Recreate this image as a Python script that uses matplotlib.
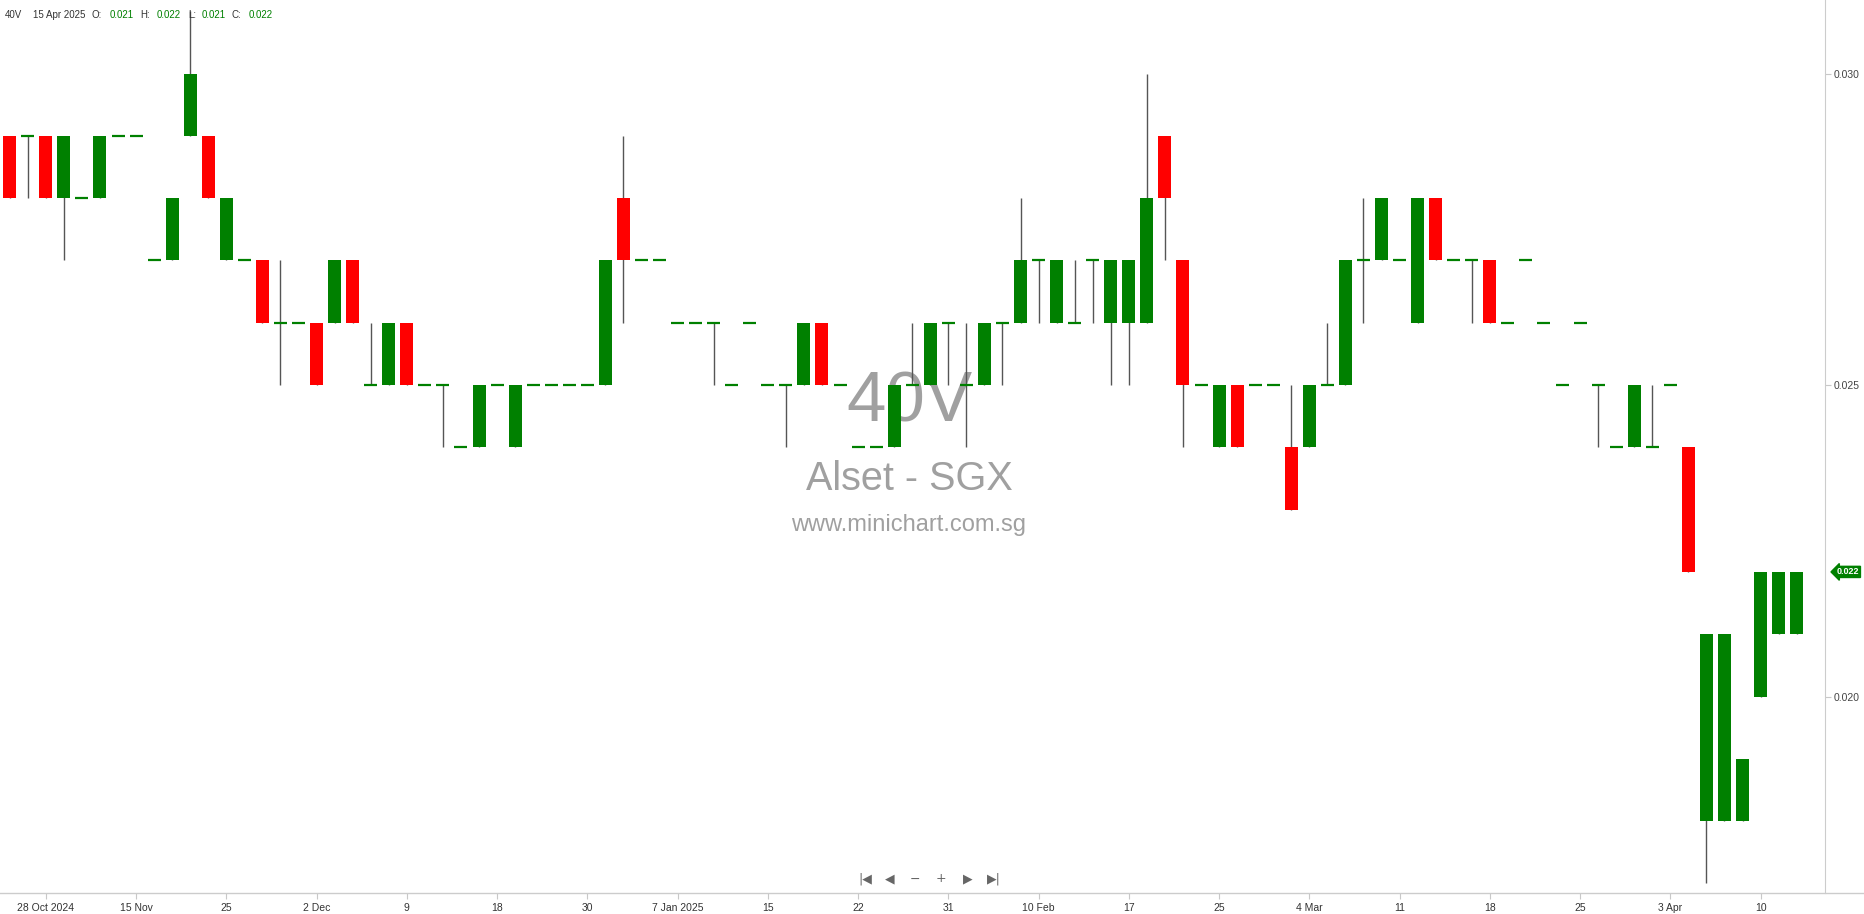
import numpy as np
import matplotlib
matplotlib.use("Agg")
import matplotlib.pyplot as plt
from matplotlib.lines import Line2D
from matplotlib.transforms import blended_transform_factory

# daily OHLC, one entry per traded day (no-trade days are skipped on this chart)
opens = [0.029, 0.029, 0.029, 0.028, 0.028, 0.028, 0.029, 0.029, 0.027, 0.027,
         0.029, 0.029, 0.027, 0.027, 0.027, 0.026, 0.026, 0.026, 0.026, 0.027,
         0.025, 0.025, 0.026, 0.025, 0.025, 0.024, 0.024, 0.025, 0.024, 0.025,
         0.025, 0.025, 0.025, 0.025, 0.028, 0.027, 0.027, 0.026, 0.026, 0.026,
         0.025, 0.026, 0.025, 0.025, 0.025, 0.026, 0.025, 0.024, 0.024, 0.024,
         0.025, 0.025, 0.026, 0.025, 0.025, 0.026, 0.026, 0.027, 0.026, 0.026,
         0.027, 0.026, 0.026, 0.026, 0.029, 0.027, 0.025, 0.024, 0.025, 0.025,
         0.025, 0.024, 0.024, 0.025, 0.025, 0.027, 0.027, 0.027, 0.026, 0.028,
         0.027, 0.027, 0.027, 0.026, 0.027, 0.026, 0.025, 0.026, 0.025, 0.024,
         0.024, 0.024, 0.025, 0.024, 0.018, 0.018, 0.018, 0.020, 0.021, 0.021]
highs = [0.029, 0.029, 0.029, 0.029, 0.028, 0.029, 0.029, 0.029, 0.027, 0.028,
         0.031, 0.029, 0.028, 0.027, 0.027, 0.027, 0.026, 0.026, 0.027, 0.027,
         0.026, 0.026, 0.026, 0.025, 0.025, 0.024, 0.025, 0.025, 0.025, 0.025,
         0.025, 0.025, 0.025, 0.027, 0.029, 0.027, 0.027, 0.026, 0.026, 0.026,
         0.025, 0.026, 0.025, 0.025, 0.026, 0.026, 0.025, 0.024, 0.024, 0.025,
         0.026, 0.026, 0.026, 0.026, 0.026, 0.026, 0.028, 0.027, 0.027, 0.027,
         0.027, 0.027, 0.027, 0.030, 0.029, 0.027, 0.025, 0.025, 0.025, 0.025,
         0.025, 0.025, 0.025, 0.026, 0.027, 0.028, 0.028, 0.027, 0.028, 0.028,
         0.027, 0.027, 0.027, 0.026, 0.027, 0.026, 0.025, 0.026, 0.025, 0.024,
         0.025, 0.025, 0.025, 0.024, 0.021, 0.021, 0.019, 0.022, 0.022, 0.022]
lows = [0.028, 0.028, 0.028, 0.027, 0.028, 0.028, 0.029, 0.029, 0.027, 0.027,
        0.029, 0.028, 0.027, 0.027, 0.026, 0.025, 0.026, 0.025, 0.026, 0.026,
        0.025, 0.025, 0.025, 0.025, 0.024, 0.024, 0.024, 0.025, 0.024, 0.025,
        0.025, 0.025, 0.025, 0.025, 0.026, 0.027, 0.027, 0.026, 0.026, 0.025,
        0.025, 0.026, 0.025, 0.024, 0.025, 0.025, 0.025, 0.024, 0.024, 0.024,
        0.025, 0.025, 0.025, 0.024, 0.025, 0.025, 0.026, 0.026, 0.026, 0.026,
        0.026, 0.025, 0.025, 0.026, 0.027, 0.024, 0.025, 0.024, 0.024, 0.025,
        0.025, 0.023, 0.024, 0.025, 0.025, 0.026, 0.027, 0.027, 0.026, 0.027,
        0.027, 0.026, 0.026, 0.026, 0.027, 0.026, 0.025, 0.026, 0.024, 0.024,
        0.024, 0.024, 0.025, 0.022, 0.017, 0.018, 0.018, 0.020, 0.021, 0.021]
closes = [0.028, 0.029, 0.028, 0.029, 0.028, 0.029, 0.029, 0.029, 0.027, 0.028,
          0.030, 0.028, 0.028, 0.027, 0.026, 0.026, 0.026, 0.025, 0.027, 0.026,
          0.025, 0.026, 0.025, 0.025, 0.025, 0.024, 0.025, 0.025, 0.025, 0.025,
          0.025, 0.025, 0.025, 0.027, 0.027, 0.027, 0.027, 0.026, 0.026, 0.026,
          0.025, 0.026, 0.025, 0.025, 0.026, 0.025, 0.025, 0.024, 0.024, 0.025,
          0.025, 0.026, 0.026, 0.025, 0.026, 0.026, 0.027, 0.027, 0.027, 0.026,
          0.027, 0.027, 0.027, 0.028, 0.028, 0.025, 0.025, 0.025, 0.024, 0.025,
          0.025, 0.023, 0.025, 0.025, 0.027, 0.027, 0.028, 0.027, 0.028, 0.027,
          0.027, 0.027, 0.026, 0.026, 0.027, 0.026, 0.025, 0.026, 0.025, 0.024,
          0.025, 0.024, 0.025, 0.022, 0.021, 0.021, 0.019, 0.022, 0.022, 0.022]

date_ticks = [2, 7, 12, 17, 22, 27, 32, 37, 42, 47, 52, 57, 62, 67, 72, 77, 82, 87, 92, 97]
date_labels = ['28 Oct 2024', '15 Nov', '25', '2 Dec', '9', '18', '30', '7 Jan 2025', '15', '22',
               '31', '10 Feb', '17', '25', '4 Mar', '11', '18', '25', '3 Apr', '10']
price_ticks = [0.020, 0.025, 0.030]
price_labels = ['0.020', '0.025', '0.030']

W, H = 1864, 914
fig = plt.figure(figsize=(W / 100, H / 100), dpi=100)
ax = fig.add_axes([0, 1 - 893 / H, 1825 / W, 893 / H])

GREEN = '#008000'
RED = '#ff0000'
x = np.arange(len(opens))
o = np.array(opens)
c = np.array(closes)
width = 0.72

# wicks
ax.vlines(x, lows, highs, color='#555555', linewidth=1, zorder=2)

# bodies
up = c > o
down = c < o
flat = c == o
ax.bar(x[up], (c - o)[up], bottom=o[up], width=width, color=GREEN, zorder=3)
ax.bar(x[down], (o - c)[down], bottom=c[down], width=width, color=RED, zorder=3)
ax.hlines(o[flat], x[flat] - width / 2, x[flat] + width / 2, color=GREEN, linewidth=1.6, zorder=3)

ax.set_xlim(-0.54, 100.57)
ax.set_ylim(0.016846, 0.03118)

ax.set_xticks(date_ticks)
ax.set_xticklabels(date_labels, family='Liberation Sans')
ax.yaxis.tick_right()
ax.set_yticks(price_ticks)
ax.set_yticklabels(price_labels, family='Liberation Sans')
ax.tick_params(axis='x', length=4, color='#c8c8c8', labelsize=7.5, labelcolor='#333333', pad=3)
ax.tick_params(axis='y', length=4, color='#c8c8c8', labelsize=7.5, labelcolor='#444444', pad=2)

for s in ['left', 'top', 'bottom']:
    ax.spines[s].set_visible(False)
ax.spines['right'].set_color('#cccccc')

# bottom rule runs across the whole figure
fig.add_artist(Line2D([0, 1], [1 - 893 / H, 1 - 893 / H], transform=fig.transFigure, color='#cccccc', lw=1))

# watermark
wm = '#a0a0a0'
fig.text(909 / W, 1 - 404 / H, '40V', ha='center', va='center', fontsize=51, color=wm,
         family='Liberation Sans', zorder=0)
fig.text(909 / W, 1 - 479 / H, 'Alset - SGX', ha='center', va='center', fontsize=28.5, color=wm,
         family='Liberation Sans', zorder=0)
fig.text(909 / W, 1 - 525 / H, 'www.minichart.com.sg', ha='center', va='center', fontsize=17, color=wm,
         family='Liberation Sans', zorder=0)
ax.set_zorder(1)
ax.patch.set_alpha(0)

# header OHLC readout
hdr = [(5, '40V', '#333333'), (33, '15 Apr 2025', '#333333'), (92, 'O:', '#333333'),
       (110, '0.021', GREEN), (140, 'H:', '#333333'), (157, '0.022', GREEN),
       (188, 'L:', '#333333'), (202, '0.021', GREEN), (232, 'C:', '#333333'), (249, '0.022', GREEN)]
for px, t, col in hdr:
    fig.text(px / W, 1 - 15 / H, t, ha='left', va='center', fontsize=7, color=col,
             family=['Liberation Sans', 'DejaVu Sans'])

# last price tag
tr = blended_transform_factory(ax.transAxes, ax.transData)
ax.text(1.0065, closes[-1], '0.022', transform=tr, ha='left', va='center', fontsize=6.5,
        color='white', fontweight='bold', family='Liberation Sans',
        bbox=dict(boxstyle='larrow,pad=0.12', fc=GREEN, ec=GREEN), clip_on=False)

# navigation buttons
nav = [(865, '|◀'), (890, '◀'), (915, '−'), (941, '+'), (968, '▶'), (994, '▶|')]
for px, t in nav:
    fig.text(px / W, 1 - 879 / H, t, ha='center', va='center', fontsize=9, color='#666666',
             family='DejaVu Sans')

fig.savefig('out.png', dpi=100)
